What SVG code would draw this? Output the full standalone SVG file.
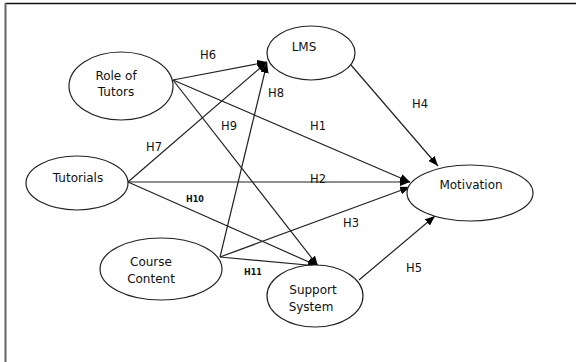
<svg xmlns="http://www.w3.org/2000/svg" width="576" height="362" viewBox="0 0 576 362">
<style>
.node ellipse{fill:#fff;stroke:#222;stroke-width:1.2}
.node text{font-family:"DejaVu Sans",sans-serif;font-size:12px;fill:#111;text-anchor:middle}
.edge line{stroke:#222;stroke-width:1.2;marker-end:url(#ah)}
.lbl{font-family:"DejaVu Sans",sans-serif;font-size:11.5px;fill:#111;text-anchor:middle}
.sm{font-size:8px;font-weight:bold}
</style>
<defs>
<marker id="ah" viewBox="0 0 10 8" refX="10" refY="4" markerWidth="10" markerHeight="8" markerUnits="userSpaceOnUse" orient="auto">
<path d="M0,0 L10,4 L0,8 Z" fill="#000"/>
</marker>
</defs>
<rect width="576" height="362" fill="#fff"/>
<line x1="5" y1="3.5" x2="576" y2="3.5" stroke="#111" stroke-width="1.5"/>
<line x1="5.5" y1="3" x2="5.5" y2="362" stroke="#666" stroke-width="2"/>
<g id="connectors" class="edge">
<line x1="173" y1="80" x2="267" y2="62"/>
<line x1="128" y1="182" x2="267" y2="62"/>
<line x1="220" y1="257" x2="267" y2="63"/>
<line x1="173" y1="80" x2="318" y2="266"/>
<line x1="173" y1="80" x2="410" y2="182"/>
<line x1="128" y1="182" x2="410" y2="182"/>
<line x1="128" y1="182" x2="318" y2="266"/>
<line x1="220" y1="257" x2="410" y2="187"/>
<line x1="220" y1="257" x2="318" y2="266"/>
<line x1="351" y1="65" x2="438" y2="166"/>
<line x1="359" y1="280" x2="435" y2="216"/>
</g>
<g id="labels">
<text class="lbl" x="208" y="59">H6</text>
<text class="lbl" x="276" y="97">H8</text>
<text class="lbl" x="229" y="130">H9</text>
<text class="lbl" x="154" y="151">H7</text>
<text class="lbl" x="318" y="130">H1</text>
<text class="lbl" x="420" y="108">H4</text>
<text class="lbl" x="318" y="183">H2</text>
<text class="lbl sm" x="195" y="202">H10</text>
<text class="lbl" x="351" y="227">H3</text>
<text class="lbl sm" x="253" y="275">H11</text>
<text class="lbl" x="414" y="272">H5</text>
</g>
<g id="role-of-tutors" class="node">
<ellipse cx="121" cy="86" rx="52" ry="34"/>
<text x="116" y="80">Role of</text>
<text x="116" y="96">Tutors</text>
</g>
<g id="lms" class="node">
<ellipse cx="311" cy="53" rx="44" ry="27"/>
<text x="304" y="51">LMS</text>
</g>
<g id="tutorials" class="node">
<ellipse cx="77" cy="183" rx="51" ry="27"/>
<text x="78" y="182">Tutorials</text>
</g>
<g id="course-content" class="node">
<ellipse cx="161" cy="269" rx="61" ry="31"/>
<text x="151" y="266">Course</text>
<text x="151" y="283">Content</text>
</g>
<g id="support-system" class="node">
<ellipse cx="315" cy="296" rx="48" ry="31"/>
<text x="313" y="294">Support</text>
<text x="311" y="311">System</text>
</g>
<g id="motivation" class="node">
<ellipse cx="470" cy="193" rx="63" ry="28"/>
<text x="471" y="189">Motivation</text>
</g>
</svg>
